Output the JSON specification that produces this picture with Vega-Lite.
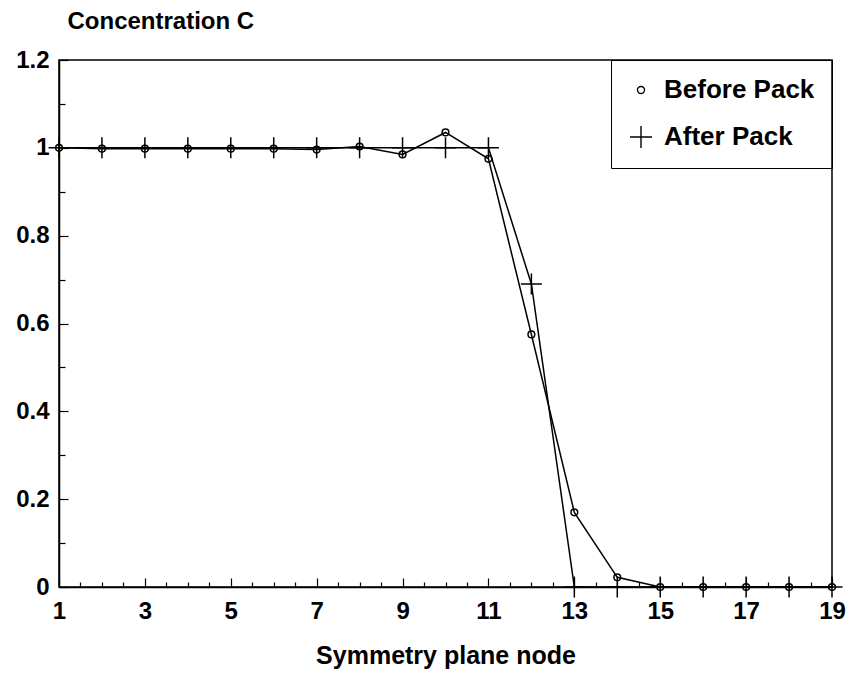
{
  "$schema": "https://vega.github.io/schema/vega-lite/v6.json",
  "width": 773,
  "height": 527,
  "autosize": {"type": "none"},
  "padding": {"left": 59, "top": 60, "right": 16, "bottom": 87},
  "background": "white",
  "config": {
    "font": "Liberation Sans",
    "view": {"stroke": "black", "strokeWidth": 1.5},
    "axis": {
      "domainColor": "black",
      "tickColor": "black",
      "labelColor": "black",
      "titleColor": "black",
      "labelFont": "Liberation Sans",
      "titleFont": "Liberation Sans",
      "labelFontWeight": "bold",
      "titleFontWeight": "bold",
      "labelFontSize": 24,
      "titleFontSize": 25,
      "grid": false,
      "tickWidth": 1.2,
      "domainWidth": 1.5
    }
  },
  "datasets": {
    "curves": [
      {"node": 1, "c": 1.0, "series": "Before Pack"},
      {"node": 2, "c": 0.998, "series": "Before Pack"},
      {"node": 3, "c": 0.998, "series": "Before Pack"},
      {"node": 4, "c": 0.998, "series": "Before Pack"},
      {"node": 5, "c": 0.998, "series": "Before Pack"},
      {"node": 6, "c": 0.998, "series": "Before Pack"},
      {"node": 7, "c": 0.996, "series": "Before Pack"},
      {"node": 8, "c": 1.003, "series": "Before Pack"},
      {"node": 9, "c": 0.985, "series": "Before Pack"},
      {"node": 10, "c": 1.035, "series": "Before Pack"},
      {"node": 11, "c": 0.975, "series": "Before Pack"},
      {"node": 12, "c": 0.575, "series": "Before Pack"},
      {"node": 13, "c": 0.17, "series": "Before Pack"},
      {"node": 14, "c": 0.022, "series": "Before Pack"},
      {"node": 15, "c": 0.0, "series": "Before Pack"},
      {"node": 16, "c": 0.0, "series": "Before Pack"},
      {"node": 17, "c": 0.0, "series": "Before Pack"},
      {"node": 18, "c": 0.0, "series": "Before Pack"},
      {"node": 19, "c": 0.0, "series": "Before Pack"},
      {"node": 1, "c": 1.0, "series": "After Pack"},
      {"node": 2, "c": 1.0, "series": "After Pack"},
      {"node": 3, "c": 1.0, "series": "After Pack"},
      {"node": 4, "c": 1.0, "series": "After Pack"},
      {"node": 5, "c": 1.0, "series": "After Pack"},
      {"node": 6, "c": 1.0, "series": "After Pack"},
      {"node": 7, "c": 1.0, "series": "After Pack"},
      {"node": 8, "c": 1.0, "series": "After Pack"},
      {"node": 9, "c": 1.0, "series": "After Pack"},
      {"node": 10, "c": 1.0, "series": "After Pack"},
      {"node": 11, "c": 1.0, "series": "After Pack"},
      {"node": 12, "c": 0.69, "series": "After Pack"},
      {"node": 13, "c": 0.0, "series": "After Pack"},
      {"node": 14, "c": 0.0, "series": "After Pack"},
      {"node": 15, "c": 0.0, "series": "After Pack"},
      {"node": 16, "c": 0.0, "series": "After Pack"},
      {"node": 17, "c": 0.0, "series": "After Pack"},
      {"node": 18, "c": 0.0, "series": "After Pack"},
      {"node": 19, "c": 0.0, "series": "After Pack"}
    ]
  },
  "data": {"name": "curves"},
  "encoding": {
    "x": {
      "field": "node",
      "type": "quantitative",
      "scale": {"domain": [1, 19], "nice": false, "zero": false},
      "axis": {
        "title": "Symmetry plane node",
        "titlePadding": 20,
        "values": [1,1.5,2,2.5,3,3.5,4,4.5,5,5.5,6,6.5,7,7.5,8,8.5,9,9.5,10,10.5,11,11.5,12,12.5,13,13.5,14,14.5,15,15.5,16,16.5,17,17.5,18,18.5,19],
        "labelExpr": "datum.value % 2 == 1 ? format(datum.value, '~g') : ''",
        "tickSize": {"condition": {"test": "datum.value % 2 == 1", "value": -9}, "value": -5},
        "labelPadding": 21,
        "labelFlush": false
      }
    },
    "y": {
      "field": "c",
      "type": "quantitative",
      "scale": {"domain": [0, 1.2], "nice": false},
      "axis": {
        "title": "Concentration C",
        "titleAngle": 0,
        "titleAlign": "left",
        "titleBaseline": "alphabetic",
        "titleX": 8,
        "titleY": -32,
        "titleFontSize": 24,
        "values": [0,0.1,0.2,0.3,0.4,0.5,0.6,0.7,0.8,0.9,1.0,1.1,1.2],
        "labelExpr": "round(datum.value*10) % 2 == 0 ? format(datum.value, '~g') : ''",
        "tickSize": {"condition": {"test": "round(datum.value*10) % 2 == 0", "value": -9}, "value": -6},
        "labelPadding": 19
      }
    }
  },
  "layer": [
    {
      "mark": {"type": "line", "color": "black", "strokeWidth": 1.5},
      "encoding": {"detail": {"field": "series"}}
    },
    {
      "mark": {"type": "point", "filled": false, "stroke": "black", "strokeWidth": 1.5, "size": 440, "opacity": 1},
      "encoding": {
        "shape": {
          "field": "series",
          "type": "nominal",
          "scale": {"domain": ["Before Pack", "After Pack"], "range": ["M0.32,0A0.32,0.32,0,1,1,-0.32,0A0.32,0.32,0,1,1,0.32,0Z", "M-1,0L1,0M0,-1L0,1"]},
          "legend": {
            "title": null,
            "orient": "top-right",
            "offset": 0,
            "strokeColor": "black",
            "padding": 17,
            "labelFontSize": 26,
            "labelFontWeight": "bold",
            "labelColor": "black",
            "labelFont": "Liberation Sans",
            "rowPadding": 20,
            "symbolSize": 484,
            "symbolStrokeWidth": 1.4,
            "symbolStrokeColor": "black",
            "symbolOpacity": 1,
            "labelOffset": 10
          }
        }
      }
    }
  ]
}
